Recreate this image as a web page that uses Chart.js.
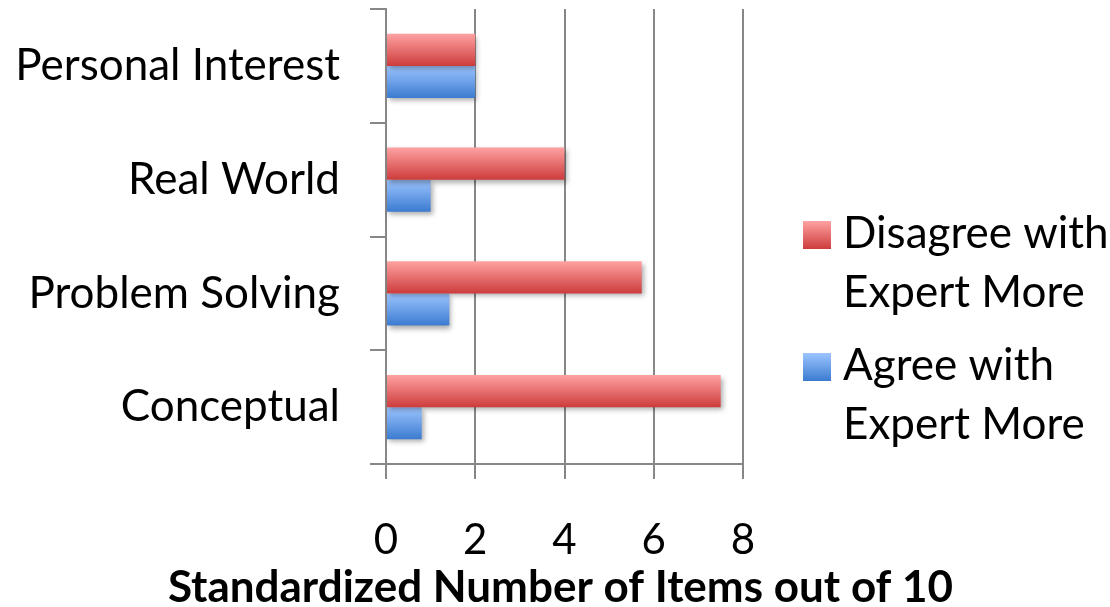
<!DOCTYPE html>
<html>
<head>
<meta charset="utf-8">
<script src="https://cdn.jsdelivr.net/npm/chart.js@4/dist/chart.umd.min.js"></script>
<style>
  html, body { margin: 0; padding: 0; background: #ffffff; }
  canvas { display: block; }
</style>
</head>
<body>
<canvas id="chart" width="1110" height="607"></canvas>
<script>
// Item categories, listed top to bottom
const categories = ['Personal Interest', 'Real World', 'Problem Solving', 'Conceptual'];

// Standardized number of items (out of 10) per category
const disagreeValues = [2, 4, 5.73, 7.5];
const agreeValues = [2, 1, 1.42, 0.8];

// Value axis ticks
const xTicks = [0, 2, 4, 6, 8];

// Axis title
const xTitle = 'Standardized Number of Items out of 10';

// Legend text, split across two lines each
const disagreeLegend = ['Disagree with', 'Expert More'];
const agreeLegend = ['Agree with', 'Expert More'];

const AXIS_GREY = '#878787';
const FONT = 'Lato, "Open Sans", sans-serif';
const LABEL_SIZE = 44;
const TICK_SIZE = 42;
const CATEGORY_PCT = 0.565;

const RED = { top: '#ffa2a2', bottom: '#cd3c3c' };
const BLUE = { top: '#9dc5ff', bottom: '#3b7bd0' };

// Vertical gradient for each bar, from the bar's own position on the category scale
function barGradient(colors) {
  return (ctx) => {
    const chart = ctx.chart;
    if (!chart.chartArea || ctx.type !== 'data') return colors.bottom;
    const y = chart.scales.y;
    const center = y.getPixelForValue(ctx.dataIndex);
    const band = Math.abs(y.getPixelForValue(1) - y.getPixelForValue(0));
    const thick = band * CATEGORY_PCT / 2;
    const top = ctx.datasetIndex === 0 ? center - thick : center;
    const g = chart.ctx.createLinearGradient(0, top, 0, top + thick);
    g.addColorStop(0, colors.top);
    g.addColorStop(1, colors.bottom);
    return g;
  };
}

// Soft drop shadow under the bars
const barShadow = {
  id: 'barShadow',
  beforeDatasetsDraw(chart) {
    const c = chart.ctx;
    c.save();
    c.shadowColor = 'rgba(0,0,0,0.32)';
    c.shadowBlur = 5;
    c.shadowOffsetX = 2;
    c.shadowOffsetY = 3;
  },
  afterDatasetsDraw(chart) {
    chart.ctx.restore();
  }
};

// Bold value-axis title, drawn at full width below the tick labels
const axisTitle = {
  id: 'axisTitle',
  afterDraw(chart) {
    const c = chart.ctx;
    const x = chart.scales.x;
    c.save();
    c.font = 'bold 44px ' + FONT;
    c.fillStyle = '#000000';
    c.textAlign = 'center';
    c.textBaseline = 'alphabetic';
    c.fillText(xTitle, (x.left + x.right) / 2 - 4, 602);
    c.restore();
  }
};

// Legend on the right with wrapped labels
const sideLegend = {
  id: 'sideLegend',
  afterDraw(chart) {
    const c = chart.ctx;
    c.save();
    c.font = LABEL_SIZE + 'px ' + FONT;
    c.textAlign = 'left';
    c.textBaseline = 'alphabetic';
    const boxX = 803, box = 28, textX = 843;
    const firstBaseline = 248, itemGap = 132, lineGap = 59;
    chart.data.datasets.forEach((ds, i) => {
      const base = firstBaseline + i * itemGap;
      const boxTop = base - 27;
      const g = c.createLinearGradient(0, boxTop, 0, boxTop + box);
      g.addColorStop(0, ds.legendColors.top);
      g.addColorStop(1, ds.legendColors.bottom);
      c.fillStyle = g;
      c.fillRect(boxX, boxTop, box, box);
      c.fillStyle = '#000000';
      ds.legendLines.forEach((t, j) => c.fillText(t, textX, base + j * lineGap));
    });
    c.restore();
  }
};

new Chart(document.getElementById('chart'), {
  type: 'bar',
  data: {
    labels: categories,
    datasets: [
      {
        label: disagreeLegend.join(' '),
        legendLines: disagreeLegend,
        legendColors: RED,
        data: disagreeValues,
        backgroundColor: barGradient(RED),
        borderWidth: 0
      },
      {
        label: agreeLegend.join(' '),
        legendLines: agreeLegend,
        legendColors: BLUE,
        data: agreeValues,
        backgroundColor: barGradient(BLUE),
        borderWidth: 0
      }
    ]
  },
  options: {
    indexAxis: 'y',
    responsive: false,
    animation: false,
    devicePixelRatio: 1,
    categoryPercentage: CATEGORY_PCT,
    barPercentage: 1,
    layout: { padding: { top: 9, right: 367, bottom: 0, left: 0 } },
    plugins: {
      legend: { display: false },
      tooltip: { enabled: false }
    },
    scales: {
      x: {
        type: 'linear',
        min: xTicks[0],
        max: xTicks[xTicks.length - 1],
        afterBuildTicks: (scale) => { scale.ticks = xTicks.map(v => ({ value: v })); },
        afterFit: (scale) => {
          scale.height = 143;
          scale.paddingLeft = 0;
          scale.paddingRight = 0;
        },
        grid: {
          color: AXIS_GREY,
          lineWidth: 2,
          tickLength: 15,
          drawOnChartArea: true
        },
        border: { display: true, color: AXIS_GREY, width: 2 },
        ticks: {
          color: '#000000',
          padding: 36,
          font: { family: FONT, size: TICK_SIZE },
          maxRotation: 0
        },
        title: { display: false }
      },
      y: {
        type: 'category',
        afterFit: (scale) => {
          scale.width = 386;
          scale.paddingTop = 0;
          scale.paddingBottom = 0;
        },
        grid: {
          offset: true,
          color: AXIS_GREY,
          lineWidth: 2,
          tickLength: 16,
          drawOnChartArea: false
        },
        border: { display: true, color: AXIS_GREY, width: 2 },
        ticks: {
          color: '#000000',
          padding: 30,
          font: { family: FONT, size: LABEL_SIZE }
        }
      }
    }
  },
  plugins: [barShadow, axisTitle, sideLegend]
});
</script>
</body>
</html>
